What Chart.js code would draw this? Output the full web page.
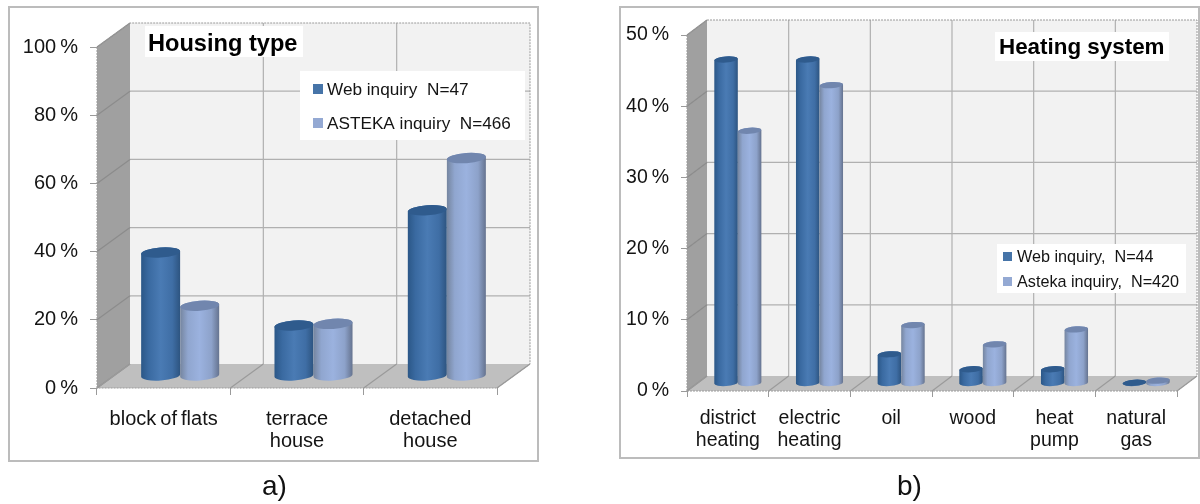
<!DOCTYPE html>
<html>
<head>
<meta charset="utf-8">
<title>Housing type and heating system</title>
<script src="https://cdn.jsdelivr.net/npm/chart.js@4"></script>
<style>
    html, body { margin: 0; padding: 0; background: #fff; }
    body { position: relative; width: 1200px; height: 504px; overflow: hidden; font-family: "Liberation Sans", Arial, sans-serif; }
    .frame { position: absolute; box-sizing: border-box; border: 2px solid #bcbcbc; background: #fff; }
    .slot { position: absolute; top: 0; width: 600px; height: 504px; }
    .caption { position: absolute; font-size: 28px; line-height: 32px; color: #111; }
</style>
</head>
<body>
<div class="frame" style="left:8px;top:6px;width:531px;height:456px"></div>
<div class="frame" style="left:619px;top:6px;width:581px;height:453px"></div>
<div class="slot" style="left:0"><canvas id="housing" width="600" height="504"></canvas></div>
<div class="slot" style="left:600px"><canvas id="heating" width="600" height="504"></canvas></div>
<div class="caption" style="left:262px;top:470px">a)</div>
<div class="caption" style="left:897px;top:470px">b)</div>

<script>
const housingCategories = ['block of flats', ['terrace', 'house'], ['detached', 'house']];
const housingWeb = [36.2, 14.8, 48.6];
const housingAsteka = [20.6, 15.3, 63.9];

const heatingCategories = [['district', 'heating'], ['electric', 'heating'], 'oil', 'wood', ['heat', 'pump'], ['natural', 'gas']];
const heatingWeb = [45.5, 45.5, 4.1, 2.0, 2.0, 0.1];
const heatingAsteka = [35.5, 41.9, 8.2, 5.5, 7.6, 0.4];

const FONT = '"Liberation Sans", Arial, sans-serif';
const TEXT = '#141414';

// Slight roll of the cylinder ends
const TILT = -0.07;

const webColor = { stops: ['#2b5787', '#3a6aa1', '#4a7bb4', '#3f6ea5', '#2d5480'], top: '#2f5b8d', key: '#4674a8' };
const astekaColor = { stops: ['#75859f', '#90a6cf', '#9bb2df', '#8da2ca', '#65738f'], top: '#7186ae', key: '#94a9d3' };

// Draws the walls, floor and their grid behind the bars
function drawRoom(chart, depth)
{
    const { ctx, chartArea: { left, right, top, bottom }, scales: { x, y } } = chart;
    const { dx, dy } = depth;

    ctx.save();

    ctx.fillStyle = '#f2f2f2';
    ctx.fillRect(left + dx, top - dy, right - left, bottom - top);

    ctx.fillStyle = '#a0a0a0';
    ctx.beginPath();
    ctx.moveTo(left, top);
    ctx.lineTo(left + dx, top - dy);
    ctx.lineTo(left + dx, bottom - dy);
    ctx.lineTo(left, bottom);
    ctx.closePath();
    ctx.fill();

    ctx.fillStyle = '#bfbfbf';
    ctx.beginPath();
    ctx.moveTo(left, bottom);
    ctx.lineTo(right, bottom);
    ctx.lineTo(right + dx, bottom - dy);
    ctx.lineTo(left + dx, bottom - dy);
    ctx.closePath();
    ctx.fill();

    ctx.lineWidth = 1.2;

    // Value lines across the back wall and down the side wall
    y.ticks.forEach((tick, i) =>
    {
        const py = y.getPixelForTick(i);

        if(i > 0 && i < y.ticks.length - 1)
        {
            ctx.strokeStyle = '#b0b0b0';
            ctx.beginPath();
            ctx.moveTo(left + dx, py - dy);
            ctx.lineTo(right + dx, py - dy);
            ctx.stroke();
        }

        ctx.strokeStyle = '#8c8c8c';
        ctx.beginPath();
        ctx.moveTo(left, py);
        ctx.lineTo(left + dx, py - dy);
        ctx.stroke();
    });

    // Category separators on the back wall and floor
    for(let i = 0; i <= x.ticks.length; i++)
    {
        const px = left + (right - left) * i / x.ticks.length;

        if(i > 0 && i < x.ticks.length)
        {
            ctx.strokeStyle = '#b0b0b0';
            ctx.beginPath();
            ctx.moveTo(px + dx, top - dy);
            ctx.lineTo(px + dx, bottom - dy);
            ctx.stroke();
        }

        ctx.strokeStyle = '#9a9a9a';
        ctx.beginPath();
        ctx.moveTo(px, bottom);
        ctx.lineTo(px + dx, bottom - dy);
        ctx.stroke();
    }

    // Dotted outline of the room
    ctx.lineWidth = 1;
    ctx.strokeStyle = '#9a9a9a';
    ctx.setLineDash([2, 1]);
    ctx.beginPath();
    ctx.moveTo(left, bottom);
    ctx.lineTo(left, top);
    ctx.lineTo(left + dx, top - dy);
    ctx.lineTo(right + dx, top - dy);
    ctx.lineTo(right + dx, bottom - dy);
    ctx.lineTo(right, bottom);
    ctx.lineTo(left, bottom);
    ctx.stroke();

    ctx.restore();
}

// Draws one bar element as a shaded cylinder standing mid way in the room
function drawCylinder(ctx, bar, depth, color)
{
    const rx = bar.width / 2;
    const ry = bar.width * 0.13;
    const cx = bar.x + depth.dx / 2;
    const topY = bar.y - depth.dy / 2;
    const baseY = bar.base - depth.dy / 2;

    const shade = ctx.createLinearGradient(cx - rx, 0, cx + rx, 0);
    [0, 0.2, 0.5, 0.8, 1].forEach((stop, i) => shade.addColorStop(stop, color.stops[i]));

    ctx.fillStyle = shade;
    ctx.beginPath();
    ctx.ellipse(cx, baseY, rx, ry, TILT, Math.PI, 0, true);
    ctx.ellipse(cx, topY, rx, ry, TILT, 0, Math.PI, true);
    ctx.closePath();
    ctx.fill();

    ctx.fillStyle = color.top;
    ctx.beginPath();
    ctx.ellipse(cx, topY, rx, ry, TILT, 0, Math.PI * 2);
    ctx.fill();
}

// White title plate and key plate on top of the room
function drawNotes(chart, notes)
{
    const { ctx } = chart;
    const datasets = chart.data.datasets;

    ctx.save();
    ctx.wordSpacing = '0px';
    ctx.textBaseline = 'alphabetic';
    ctx.textAlign = 'left';

    ctx.fillStyle = '#fff';
    ctx.fillRect(...notes.titleBox);
    ctx.fillStyle = '#000';
    ctx.font = `bold ${notes.titleSize}px ${FONT}`;
    ctx.fillText(notes.title, notes.titleX, notes.titleY);

    ctx.fillStyle = '#fff';
    ctx.fillRect(...notes.keyBox);
    ctx.font = `${notes.keySize}px ${FONT}`;

    datasets.forEach((dataset, i) =>
    {
        ctx.fillStyle = dataset.keyColor;
        ctx.fillRect(notes.swatchX, notes.keyY[i] - notes.swatch - 1, notes.swatch, notes.swatch);

        ctx.fillStyle = TEXT;
        ctx.fillText(dataset.label, notes.keyX, notes.keyY[i]);
    });

    ctx.restore();
}

const room3d =
{
    id: 'room3d',

    beforeDraw(chart)
    {
        // Axis labels are set with tight word gaps
        chart.ctx.wordSpacing = '-1.5px';
    },

    beforeDatasetsDraw(chart, args, options)
    {
        drawRoom(chart, options.depth);
    },

    afterDatasetsDraw(chart, args, options)
    {
        chart.data.datasets.forEach((dataset, i) =>
        {
            chart.getDatasetMeta(i).data.forEach(bar => drawCylinder(chart.ctx, bar, options.depth, dataset.cylinder));
        });

        drawNotes(chart, options.notes);
    }
};

Chart.register(room3d);

function makeChart(id, categories, series, axis, room)
{
    return new Chart(document.getElementById(id),
    {
        type: 'bar',

        data:
        {
            labels: categories,

            datasets: series.map(item =>
            ({
                label: item.label,
                data: item.values,
                backgroundColor: 'rgba(0,0,0,0)',
                keyColor: item.color.key,
                cylinder: item.color,
                categoryPercentage: axis.barShare,
                barPercentage: 1
            }))
        },

        options:
        {
            responsive: false,
            animation: false,

            layout:
            {
                padding: { left: 0, top: axis.top, right: axis.right, bottom: 0 }
            },

            plugins:
            {
                legend: { display: false },
                tooltip: { enabled: false },
                room3d: room
            },

            scales:
            {
                x:
                {
                    afterFit: scale => { scale.height = 504 - axis.bottom; },

                    grid: { drawOnChartArea: false, tickLength: axis.tick, color: '#9a9a9a' },
                    border: { display: false },

                    ticks:
                    {
                        font: { family: FONT, size: axis.fontSize, lineHeight: 1.13 },
                        color: TEXT,
                        padding: axis.xPadding,
                        maxRotation: 0,
                        autoSkip: false
                    }
                },

                y:
                {
                    min: 0,
                    max: axis.max,

                    afterFit: scale => { scale.width = axis.left; },

                    grid: { drawOnChartArea: false, tickLength: axis.tick, color: '#9a9a9a' },
                    border: { display: false },

                    ticks:
                    {
                        stepSize: axis.step,
                        font: { family: FONT, size: axis.fontSize },
                        color: TEXT,
                        padding: axis.yPadding,
                        callback: value => value + ' %'
                    }
                }
            }
        }
    });
}

makeChart('housing', housingCategories,
    [
        { label: 'Web inquiry  N=47', values: housingWeb, color: webColor },
        { label: 'ASTEKA inquiry  N=466', values: housingAsteka, color: astekaColor }
    ],
    { left: 97, right: 103, top: 47, bottom: 388, max: 100, step: 20, barShare: 0.586, tick: 7, fontSize: 20, xPadding: 13, yPadding: 12 },
    {
        depth: { dx: 33, dy: 24 },
        notes:
        {
            title: 'Housing type', titleBox: [145, 26, 158, 31], titleX: 148, titleY: 51, titleSize: 23.6,
            keyBox: [300, 71, 225, 69], keySize: 17.2, keyX: 327, keyY: [95, 129], swatchX: 313, swatch: 10
        }
    });

makeChart('heating', heatingCategories,
    [
        { label: 'Web inquiry,  N=44', values: heatingWeb, color: webColor },
        { label: 'Asteka inquiry,  N=420', values: heatingAsteka, color: astekaColor }
    ],
    { left: 87, right: 23, top: 35, bottom: 391, max: 50, step: 10, barShare: 0.577, tick: 6, fontSize: 19.5, xPadding: 11, yPadding: 12 },
    {
        depth: { dx: 20, dy: 15 },
        notes:
        {
            title: 'Heating system', titleBox: [395, 32, 174, 29], titleX: 399, titleY: 54, titleSize: 22.4,
            keyBox: [397, 244, 189, 49], keySize: 16.2, keyX: 417, keyY: [262, 287], swatchX: 403, swatch: 9
        }
    });
</script>
</body>
</html>
